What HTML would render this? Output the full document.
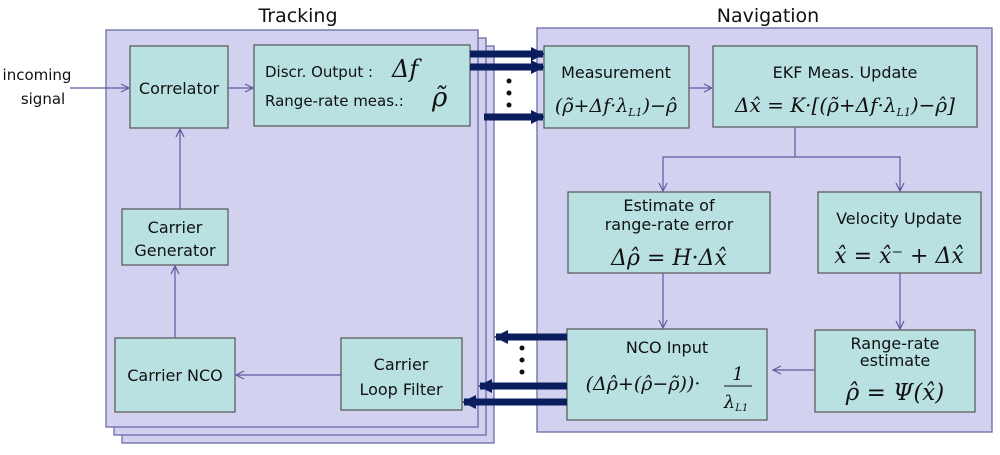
<!DOCTYPE html>
<html><head><meta charset="utf-8"><style>
body{margin:0;background:#fff}
svg text{font-family:"DejaVu Sans","Liberation Sans",sans-serif;fill:#111}
.m{font-family:"DejaVu Serif","Liberation Serif",serif;font-style:italic}
</style></head><body>
<svg width="1000" height="450" viewBox="0 0 1000 450" xmlns="http://www.w3.org/2000/svg">
<defs>
<marker id="a" markerWidth="10" markerHeight="10" refX="9" refY="5" orient="auto" markerUnits="userSpaceOnUse"><path d="M1,1 L9,5 L1,9" fill="none" stroke="#5b5ba0" stroke-width="1.2"/></marker>
<marker id="t" markerWidth="14" markerHeight="14" refX="12" refY="7" orient="auto" markerUnits="userSpaceOnUse"><path d="M0,0 L14,7 L0,14 Z" fill="#0a1e5e"/></marker>
</defs>
<text x="298" y="22" font-size="19" text-anchor="middle">Tracking</text>
<text x="768" y="22" font-size="19" text-anchor="middle">Navigation</text>
<g fill="#d2d2f0" stroke="#6a6aa8" stroke-width="1.3">
<rect x="122" y="46" width="372" height="397"/>
<rect x="114" y="38" width="372" height="397"/>
<rect x="106" y="30" width="372" height="397"/>
<rect x="537" y="28" width="455" height="404"/>
</g>
<g fill="#b9e1e1" stroke="#555" stroke-width="1.2">
<rect x="130" y="46" width="98" height="82"/>
<rect x="254" y="45" width="216" height="81"/>
<rect x="122" y="209" width="106" height="56"/>
<rect x="115" y="338" width="120" height="74"/>
<rect x="341" y="338" width="121" height="72"/>
<rect x="544" y="46" width="145" height="82"/>
<rect x="713" y="46" width="264" height="81"/>
<rect x="568" y="192" width="202" height="81"/>
<rect x="818" y="192" width="163" height="81"/>
<rect x="567" y="329" width="200" height="91"/>
<rect x="815" y="330" width="160" height="82"/>
</g>
<g stroke="#5b5ba0" stroke-width="1.2" fill="none">
<line x1="70" y1="88" x2="129" y2="88" marker-end="url(#a)"/>
<line x1="228" y1="88" x2="253" y2="88" marker-end="url(#a)"/>
<line x1="180" y1="209" x2="180" y2="129" marker-end="url(#a)"/>
<line x1="175" y1="338" x2="175" y2="266" marker-end="url(#a)"/>
<line x1="341" y1="375" x2="236" y2="375" marker-end="url(#a)"/>
<line x1="689" y1="88" x2="712" y2="88" marker-end="url(#a)"/>
<polyline points="795,127 795,157 663,157 663,191" marker-end="url(#a)"/>
<polyline points="795,157 900,157 900,191" marker-end="url(#a)"/>
<line x1="663" y1="273" x2="663" y2="328" marker-end="url(#a)"/>
<line x1="900" y1="273" x2="900" y2="329" marker-end="url(#a)"/>
<line x1="815" y1="370" x2="773" y2="370" marker-end="url(#a)"/>
</g>
<g stroke="#0a1e5e" stroke-width="7" fill="none">
<line x1="470" y1="54" x2="543" y2="54" marker-end="url(#t)"/>
<line x1="470" y1="67" x2="543" y2="67" marker-end="url(#t)"/>
<line x1="484" y1="117" x2="543" y2="117" marker-end="url(#t)"/>
<line x1="567" y1="337" x2="496" y2="337" marker-end="url(#t)"/>
<line x1="567" y1="386" x2="480" y2="386" marker-end="url(#t)"/>
<line x1="567" y1="402" x2="464" y2="402" marker-end="url(#t)"/>
</g>
<g fill="#111"><circle cx="509" cy="81" r="2.5"/><circle cx="509" cy="93" r="2.5"/><circle cx="509" cy="105" r="2.5"/>
<circle cx="522" cy="348" r="2.5"/><circle cx="522" cy="360" r="2.5"/><circle cx="522" cy="372" r="2.5"/></g>
<text x="37" y="80" font-size="15" text-anchor="middle">incoming</text>
<text x="43" y="104" font-size="15" text-anchor="middle">signal</text>
<text x="179" y="94" font-size="16" text-anchor="middle">Correlator</text>
<text x="265" y="77" font-size="15">Discr. Output :</text>
<text x="392" y="77" font-size="24" class="m">Δf</text>
<text x="265" y="106" font-size="15">Range-rate  meas.:</text>
<text x="432" y="106" font-size="26" class="m">ρ̃</text>
<text x="175" y="233" font-size="16" text-anchor="middle">Carrier</text>
<text x="175" y="256" font-size="16" text-anchor="middle">Generator</text>
<text x="175" y="381" font-size="16" text-anchor="middle">Carrier NCO</text>
<text x="401" y="370" font-size="16" text-anchor="middle">Carrier</text>
<text x="401" y="395" font-size="16" text-anchor="middle">Loop Filter</text>
<text x="616" y="78" font-size="16" text-anchor="middle">Measurement</text>
<text x="616" y="112" font-size="19" text-anchor="middle" class="m">(ρ̃+Δf·λ<tspan font-size="11" dy="4">L1</tspan><tspan dy="-4">)−ρ̂</tspan></text>
<text x="845" y="78" font-size="16" text-anchor="middle">EKF Meas. Update</text>
<text x="845" y="112" font-size="20" text-anchor="middle" class="m">Δx̂ = K·[(ρ̃+Δf·λ<tspan font-size="11" dy="4">L1</tspan><tspan dy="-4">)−ρ̂]</tspan></text>
<text x="669" y="211" font-size="16" text-anchor="middle">Estimate of</text>
<text x="669" y="230" font-size="16" text-anchor="middle">range-rate error</text>
<text x="669" y="265" font-size="22" text-anchor="middle" class="m">Δρ̂ = H·Δx̂</text>
<text x="899" y="224" font-size="16" text-anchor="middle">Velocity Update</text>
<text x="899" y="263" font-size="22" text-anchor="middle" class="m">x̂ = x̂⁻ + Δx̂</text>
<text x="667" y="353" font-size="16" text-anchor="middle">NCO Input</text>
<text x="643" y="390" font-size="19" text-anchor="middle" class="m">(Δρ̂+(ρ̂−ρ̃))·</text>
<text x="738" y="380" font-size="18" text-anchor="middle" class="m">1</text>
<line x1="724" y1="386" x2="752" y2="386" stroke="#111"/>
<text x="736" y="408" font-size="18" text-anchor="middle" class="m">λ<tspan font-size="10" dy="3">L1</tspan></text>
<text x="895" y="349" font-size="16" text-anchor="middle">Range-rate</text>
<text x="895" y="366" font-size="16" text-anchor="middle">estimate</text>
<text x="895" y="400" font-size="23" text-anchor="middle" class="m">ρ̂ = Ψ(x̂)</text>
</svg>
</body></html>
